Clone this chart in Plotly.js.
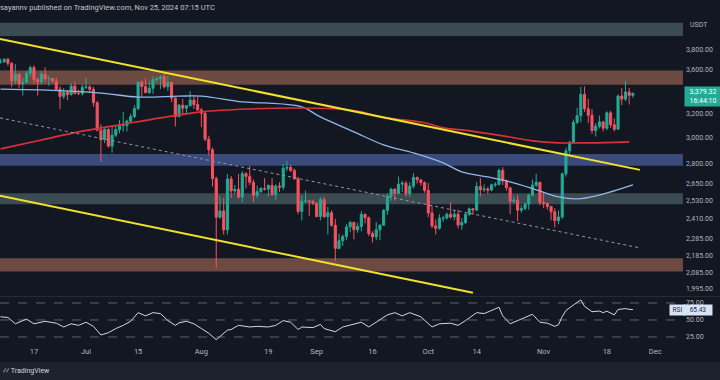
<!DOCTYPE html>
<html><head><meta charset="utf-8">
<script src="https://cdn.plot.ly/plotly-3.0.1.min.js"></script>
<style>html,body{margin:0;padding:0;background:#131722;}#chart{width:720px;height:380px;}</style>
</head><body><div id="chart"></div>
<script>
// ---- daily candles ETH/USDT, starting 2024-06-08 ----
const startDate = '2024-06-08';
const openP = [
3678,3683,3706,3667,3497,3560,3469,3482,3566,3623,3509,3485,3560,3515,3519,3495,3419,3353,3390,3369,3448,3380,3378,
3437,3440,3417,3296,3061,2983,3067,2932,3020,3065,3099,3099,3136,3176,3245,3484,3444,3387,3427,3507,3517,3537,3441,3482,3337,3175,3274,3248,3270,3320,3280,
3232,3204,2987,2904,2687,2420,2462,2339,2684,2598,2610,2555,2722,2702,2660,2568,2593,2615,2611,2637,2572,2632,2624,2762,2768,2746,2684,2458,2527,2529,2526,
2513,2425,2538,2424,2450,2368,2225,2272,2297,2358,2387,2340,2361,2439,2417,2316,2295,2340,2369,2465,2561,2611,2581,2646,2653,2579,2632,2695,2677,2658,
2602,2448,2364,2349,2414,2415,2440,2422,2440,2370,2386,2438,2476,2468,2629,2606,2612,2604,2641,2645,2747,2669,2620,2526,2534,2467,2478,2507,2567,2639,2659,
2519,2512,2492,2456,2398,2422,2721,2895,2961,3126,3182,3371,3243,3187,3058,3093,3130,3077,3207,3106,3069,3356,3328,3393,3362];
const highP = [
3712,3715,3720,3675,3657,3565,3530,3588,3643,3646,3525,3590,3625,3545,3526,3527,3445,3430,3410,3475,3490,3415,3460,
3525,3455,3440,3310,3110,3085,3075,3100,3095,3145,3215,3150,3200,3275,3495,3500,3520,3490,3540,3535,3550,3563,3540,3490,3345,3285,3330,3275,3400,3365,3350,
3250,3220,3015,2920,2700,2560,2550,2720,2705,2640,2720,2740,2735,2780,2680,2635,2625,2690,2645,2690,2645,2660,2795,2820,2790,2760,2700,2565,2600,2535,2535,
2522,2555,2555,2490,2465,2410,2315,2310,2375,2395,2390,2385,2460,2445,2425,2330,2390,2375,2475,2580,2620,2615,2700,2670,2670,2660,2725,2700,2680,2665,
2655,2495,2405,2440,2430,2450,2520,2465,2470,2415,2455,2485,2480,2660,2690,2645,2625,2650,2660,2760,2770,2680,2625,2560,2570,2500,2520,2580,2680,2720,2665,
2590,2520,2495,2480,2465,2730,2920,2975,3150,3250,3440,3445,3330,3240,3120,3185,3140,3220,3225,3160,3370,3430,3497,3430,3390];
const lowP = [
3663,3667,3641,3436,3465,3432,3360,3476,3530,3465,3360,3466,3485,3450,3475,3410,3241,3330,3320,3360,3370,3365,3360,
3420,3390,3260,3050,2810,2955,2920,2880,3005,3035,3050,3050,3125,3160,3230,3350,3380,3375,3375,3480,3420,3425,3400,3300,3090,3170,3190,3200,3260,3240,3225,
3085,2970,2860,2630,2111,2410,2310,2310,2550,2580,2545,2520,2615,2640,2520,2550,2585,2600,2560,2565,2535,2590,2605,2740,2735,2680,2440,2400,2515,2430,2500,
2420,2400,2415,2310,2360,2150,2220,2240,2275,2325,2280,2320,2330,2380,2300,2260,2275,2275,2365,2435,2530,2530,2575,2590,2560,2555,2615,2650,2635,2585,
2420,2350,2310,2340,2390,2405,2410,2400,2350,2340,2375,2430,2440,2460,2560,2590,2580,2595,2625,2635,2640,2600,2440,2510,2395,2450,2465,2470,2560,2625,2500,
2480,2470,2400,2355,2375,2410,2700,2865,2950,3110,3125,3215,3120,3030,3010,3075,3050,3060,3080,3050,3065,3275,3310,3280,3340];
const closeP = [
3683,3706,3667,3497,3560,3469,3482,3566,3623,3509,3485,3560,3515,3519,3495,3419,3353,3390,3369,3448,3380,3378,3437,
3440,3417,3296,3061,2983,3067,2932,3020,3065,3099,3099,3136,3176,3245,3484,3444,3387,3427,3507,3517,3537,3441,3482,3337,3175,3274,3248,3270,3320,3280,3232,
3204,2987,2904,2687,2420,2462,2339,2684,2598,2610,2555,2722,2702,2660,2568,2593,2615,2611,2637,2572,2632,2624,2762,2768,2746,2684,2458,2527,2529,2526,2513,
2425,2538,2424,2450,2368,2225,2272,2297,2358,2387,2340,2361,2439,2417,2316,2295,2340,2369,2465,2561,2611,2581,2646,2653,2579,2632,2695,2677,2658,2602,
2448,2364,2349,2414,2415,2440,2422,2440,2370,2386,2438,2476,2468,2629,2606,2612,2604,2641,2645,2747,2669,2620,2526,2534,2467,2478,2507,2567,2639,2659,2519,
2512,2492,2456,2398,2422,2721,2895,2961,3126,3182,3371,3243,3187,3058,3093,3130,3077,3207,3106,3069,3356,3328,3393,3362,3379.32];

// ---- moving averages ----
const ma100Dates = ['2024-06-08','2024-06-19','2024-07-05','2024-07-15','2024-07-26','2024-08-01','2024-08-12','2024-08-18','2024-08-28','2024-09-02','2024-09-11','2024-09-19','2024-09-27','2024-10-05','2024-10-10','2024-10-17','2024-10-23','2024-10-30','2024-11-05','2024-11-10','2024-11-16','2024-11-25'];
const ma100Vals  = [3420,3412,3383,3347,3355,3355,3303,3294,3259,3172,3047,2942,2879,2803,2735,2698,2662,2606,2557,2543,2570,2641];
const ma200Dates = ['2024-06-08','2024-06-19','2024-06-29','2024-07-10','2024-07-21','2024-08-01','2024-08-14','2024-08-27','2024-09-07','2024-09-13','2024-09-18','2024-09-30','2024-10-05','2024-10-10','2024-10-21','2024-10-29','2024-11-05','2024-11-13','2024-11-24'];
const ma200Vals  = [2910,2981,3047,3105,3164,3216,3241,3250,3241,3216,3172,3122,3080,3063,3014,2974,2958,2958,2966];

// ---- drawn trendlines ----
const upperTrendDates = ['2024-06-07 21:00','2024-11-26 21:00'];
const upperTrendVals  = [3915,2750];
const lowerTrendDates = ['2024-06-07 21:00','2024-10-13 00:00'];
const lowerTrendVals  = [2564,1974];
const midDotDates = ['2024-06-07 21:00','2024-11-26 21:00'];
const midDotVals  = [3164,2228];

// ---- zones [low, high, colour] ----
const zoneLows  = [3947,3460,2780,2506,2090];
const zoneHighs = [4090,3595,2870,2582,2167];
const zoneColors= ['#3c4b52','#6c4a41','#3a4a7b','#3b4b51','#6c4a41'];

// ---- RSI ----
const rsiDates = ['2024-06-08','2024-06-10','2024-06-12','2024-06-13','2024-06-15','2024-06-17','2024-06-20','2024-06-23','2024-06-25','2024-06-27','2024-06-29',
'2024-07-01','2024-07-03','2024-07-05','2024-07-07','2024-07-09','2024-07-11','2024-07-13','2024-07-15','2024-07-17','2024-07-19','2024-07-21','2024-07-23','2024-07-25','2024-07-26','2024-07-28','2024-07-30',
'2024-08-01','2024-08-03','2024-08-05','2024-08-06','2024-08-08','2024-08-09','2024-08-11','2024-08-14','2024-08-16','2024-08-19','2024-08-21','2024-08-23','2024-08-25','2024-08-27','2024-08-28','2024-08-31',
'2024-09-02','2024-09-03','2024-09-06','2024-09-08','2024-09-11','2024-09-13','2024-09-15','2024-09-17','2024-09-20','2024-09-22','2024-09-24','2024-09-26','2024-09-29',
'2024-10-02','2024-10-04','2024-10-07','2024-10-09','2024-10-11','2024-10-14','2024-10-16','2024-10-20','2024-10-21','2024-10-23','2024-10-26','2024-10-29','2024-10-31',
'2024-11-02','2024-11-04','2024-11-05','2024-11-06','2024-11-07','2024-11-09','2024-11-11','2024-11-12','2024-11-14','2024-11-16','2024-11-17','2024-11-18','2024-11-20','2024-11-21','2024-11-22','2024-11-23','2024-11-24','2024-11-25'];
const rsiVals = [54.7,53.7,44.4,46.7,51.4,44.4,48.1,45.3,39.7,44.4,42.1,
46.7,40.6,28.0,31.3,37.4,42.1,48.1,60.8,56.1,60.8,59.4,49.1,42.1,45.8,48.1,44.4,
37.4,30.4,21.0,25.7,35.0,36.0,42.1,39.7,40.6,39.7,42.1,49.1,46.7,36.0,39.7,38.8,
43.5,37.4,32.7,39.7,44.4,46.7,39.7,46.7,57.5,60.8,56.1,60.8,54.7,
39.7,44.4,45.3,42.1,49.1,60.8,59.4,68.7,56.1,44.4,51.4,58.4,46.7,
45.3,40.6,43.0,55.0,64.0,72.0,79.5,70.0,62.2,63.1,60.8,63.0,57.5,65.4,65.9,66.8,65.6,65.43];
const rsiLevels = [75,50,25];

// ---- axis ticks ----
const priceTicks = [3800,3600,3200,3000,2800,2650,2530,2410,2285,2185,2085,1995];
const dateTickVals = ['2024-06-17','2024-07-01','2024-07-15','2024-08-01','2024-08-19','2024-09-01','2024-09-16','2024-10-01','2024-10-14','2024-11-01','2024-11-18','2024-12-01'];
const dateTickText = ['17','Jul','15','Aug','19','Sep','16','Oct','14','Nov','18','Dec'];

const dates = closeP.map((_, i) => {
  const d = new Date(startDate + 'T00:00:00Z'); d.setUTCDate(d.getUTCDate() + i);
  return d.toISOString().slice(0, 10);
});
const fmt = v => v.toLocaleString('en-US', {minimumFractionDigits: 2, maximumFractionDigits: 2});

const FONT = 'Roboto, "Liberation Sans", sans-serif';
const TXT = '#b2b5be';
const traces = [
  {type:'candlestick', x:dates, open:openP, high:highP, low:lowP, close:closeP, xaxis:'x', yaxis:'y',
   increasing:{line:{color:'#22ab94', width:1}, fillcolor:'#22ab94'},
   decreasing:{line:{color:'#f7525f', width:1}, fillcolor:'#f7525f'},
   whiskerwidth:0, hoverinfo:'skip'},
  {type:'scatter', mode:'lines', x:ma100Dates, y:ma100Vals, line:{color:'#90b8ea', width:1.3, shape:'spline'}, xaxis:'x', yaxis:'y', hoverinfo:'skip'},
  {type:'scatter', mode:'lines', x:ma200Dates, y:ma200Vals, line:{color:'#d9313b', width:1.6, shape:'spline'}, xaxis:'x', yaxis:'y', hoverinfo:'skip'},
  {type:'scatter', mode:'lines', x:midDotDates, y:midDotVals, line:{color:'#9298a4', width:1, dash:'dot'}, xaxis:'x', yaxis:'y', hoverinfo:'skip'},
  {type:'scatter', mode:'lines', x:upperTrendDates, y:upperTrendVals, line:{color:'#f2e12c', width:2}, xaxis:'x', yaxis:'y', hoverinfo:'skip'},
  {type:'scatter', mode:'lines', x:lowerTrendDates, y:lowerTrendVals, line:{color:'#f2e12c', width:2}, xaxis:'x', yaxis:'y', hoverinfo:'skip'},
  {type:'scatter', mode:'lines', x:rsiDates, y:rsiVals, line:{color:'#d4d7df', width:1}, xaxis:'x', yaxis:'y2', hoverinfo:'skip'}
];

const shapes = [];
zoneLows.forEach((lo, i) => shapes.push({type:'rect', xref:'paper', yref:'y', x0:0, x1:0.997, y0:lo, y1:zoneHighs[i], fillcolor:zoneColors[i], line:{width:0}, layer:'below'}));
rsiLevels.forEach(v => shapes.push({type:'line', xref:'paper', yref:'y2', x0:0, x1:0.995, y0:v, y1:v, line:{color:'#5f636e', width:1, dash:'dash'}, layer:'below'}));
// pane separator
shapes.push({type:'line', xref:'paper', yref:'paper', x0:0, x1:1.06, y0:0.149, y1:0.149, line:{color:'#2a2e39', width:1}});
// bottom footer strip
shapes.push({type:'rect', xref:'paper', yref:'paper', x0:0, x1:1.06, y0:-0.052, y1:-0.11, fillcolor:'#1e222d', line:{width:0}, layer:'below'});

const lastClose = closeP[closeP.length - 1];
const lastRsi = rsiVals[rsiVals.length - 1];
const annotations = [
  {xref:'paper', yref:'paper', x:-0.003, y:1.034, xanchor:'left', yanchor:'middle', showarrow:false,
   text:'sayannv published on TradingView.com, Nov 25, 2024 07:15 UTC', font:{family:FONT, size:7.5, color:'#c3c6ce'}},
  {xref:'paper', yref:'paper', x:1.004, y:0.982, xanchor:'left', yanchor:'middle', showarrow:false,
   text:'USDT', font:{family:FONT, size:7, color:TXT}},
  {xref:'paper', yref:'y', x:0.9985, y:Math.log10(lastClose), xanchor:'left', yanchor:'middle', yshift:-3, showarrow:false,
   text:fmt(lastClose) + '<br>16:44:10', bgcolor:'#22ab94', borderpad:1, width:34, align:'center',
   font:{family:FONT, size:7, color:'#ffffff'}},
  {xref:'paper', yref:'y2', x:0.9766, y:lastRsi, xanchor:'left', yanchor:'middle', showarrow:false,
   text:'RSI', bgcolor:'#d8e4f3', borderpad:1, width:13, font:{family:FONT, size:6.5, color:'#1c2a4a'}},
  {xref:'paper', yref:'y2', x:0.9971, y:lastRsi, xanchor:'left', yanchor:'middle', showarrow:false,
   text:fmt(lastRsi), bgcolor:'#d8e4f3', borderpad:1, width:26, font:{family:FONT, size:6.5, color:'#1c2a4a'}},
  {xref:'paper', yref:'paper', x:0.002, y:-0.08, xanchor:'left', yanchor:'middle', showarrow:false,
   text:'<b>⁄⁄</b> TradingView', font:{family:FONT, size:7, color:'#d1d4dc'}}
];

const layout = {
  width:720, height:380,
  paper_bgcolor:'#131722', plot_bgcolor:'#131722',
  margin:{l:0, r:35, t:19, b:35},
  showlegend:false, boxgap:0.2,
  font:{family:FONT, color:TXT},
  xaxis:{type:'date', range:['2024-06-07 21:00','2024-12-09 00:00'], anchor:'y2',
    tickvals:dateTickVals, ticktext:dateTickText, tickfont:{family:FONT, size:7.5, color:TXT},
    showgrid:false, zeroline:false, showline:false, ticks:'', rangeslider:{visible:false}, fixedrange:true},
  yaxis:{type:'log', domain:[0.1503,1], range:[Math.log10(1957), Math.log10(4131)], side:'right', anchor:'x',
    tickvals:priceTicks, ticktext:priceTicks.map(fmt), tickfont:{family:FONT, size:7, color:TXT},
    showgrid:false, zeroline:false, showline:false, ticks:''},
  yaxis2:{domain:[0,0.1472], range:[13.2,83.8], side:'right', anchor:'x',
    tickvals:rsiLevels, ticktext:rsiLevels.map(fmt), tickfont:{family:FONT, size:7, color:TXT},
    showgrid:false, zeroline:false, showline:false, ticks:''},
  shapes:shapes, annotations:annotations
};
Plotly.newPlot('chart', traces, layout, {staticPlot:true, displayModeBar:false});
</script></body></html>
